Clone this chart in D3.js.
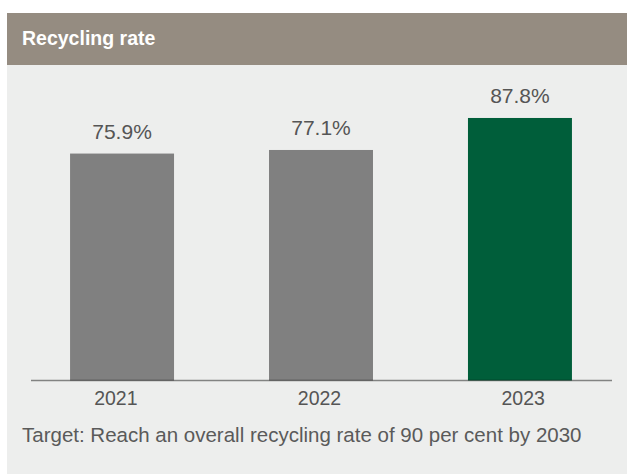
<!DOCTYPE html>
<html><head><meta charset="utf-8">
<script src="https://cdn.jsdelivr.net/npm/d3@7"></script>
<style>
html,body{margin:0;padding:0;background:#fff;}
svg{display:block;}
text{font-family:"Liberation Sans",Arial,Helvetica,sans-serif;}
</style></head>
<body>
<svg id="chart" width="627" height="475"></svg>
<script>
const title = "Recycling rate";
const footnote = "Target: Reach an overall recycling rate of 90 per cent by 2030";
const years = ["2021", "2022", "2023"];
const rates = [75.9, 77.1, 87.8];
const valueLabels = ["75.9%", "77.1%", "87.8%"];
const barColors = ["#808080", "#808080", "#005e3a"];

const svg = d3.select("#chart");

// panel
svg.append("rect").attr("x", 7).attr("y", 13).attr("width", 620).attr("height", 461).attr("fill", "#edeeed");
svg.append("rect").attr("x", 7).attr("y", 13).attr("width", 620).attr("height", 52).attr("fill", "#958c81");
svg.append("text").attr("x", 22).attr("y", 45).attr("fill", "#ffffff")
  .attr("font-size", "19.5px").attr("font-weight", "bold").text(title);

const x = d3.scaleBand().domain(years).range([22.5, 619.5]).paddingInner(95/199).paddingOuter(0.239);
const xLab = d3.scaleBand().domain(years).range([14, 625]).padding(0);
const y = d3.scaleLinear().domain([0, 100]).range([380.5, 81.5]);

const data = years.map((yr, i) => ({yr, v: rates[i], lab: valueLabels[i], c: barColors[i]}));

svg.selectAll("rect.bar").data(data).join("rect").attr("class", "bar")
  .attr("x", d => x(d.yr)).attr("width", x.bandwidth())
  .attr("y", d => y(d.v)).attr("height", d => y(0) - y(d.v))
  .attr("fill", d => d.c);

svg.selectAll("text.val").data(data).join("text").attr("class", "val")
  .attr("x", d => x(d.yr) + x.bandwidth()/2).attr("y", d => y(d.v) - 14.5)
  .attr("text-anchor", "middle").attr("font-size", "21px").attr("fill", "#555555")
  .text(d => d.lab);

// axis baseline
svg.append("line").attr("x1", 31).attr("x2", 612).attr("y1", y(0)).attr("y2", y(0))
  .attr("stroke", "rgba(0,0,0,0.45)").attr("stroke-width", 1.5);

svg.selectAll("text.yr").data(data).join("text").attr("class", "yr")
  .attr("x", d => xLab(d.yr) + xLab.bandwidth()/2).attr("y", y(0) + 24.5)
  .attr("text-anchor", "middle").attr("font-size", "19.5px").attr("fill", "#555555")
  .text(d => d.yr);

svg.append("text").attr("x", 22).attr("y", 442).attr("font-size", "20.5px").attr("fill", "#5a5a5a")
  .text(footnote);
</script>
</body></html>
